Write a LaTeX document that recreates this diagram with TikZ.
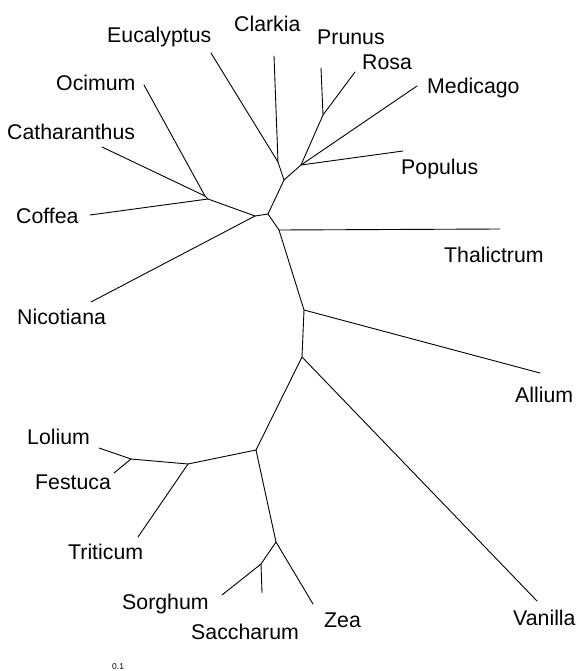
\documentclass[tikz,border=0pt]{standalone}
\usepackage{fontspec}
\setmainfont{Liberation Sans}
\begin{document}
\begin{tikzpicture}[x=1pt,y=-1pt,
  branch/.style={line width=0.9pt, line cap=round, line join=round},
  taxon/.style={anchor=base west, inner sep=0pt, font=\fontsize{21.3}{25}\selectfont},
  scalelbl/.style={anchor=base west, inner sep=0pt, font=\fontsize{8.5}{10}\selectfont}]
\useasboundingbox (0,0) rectangle (577,671);
% internal nodes
\coordinate (nEC) at (278,162);
\coordinate (nA) at (284,180);
\coordinate (nR) at (301,165);
\coordinate (nPR) at (323,115);
\coordinate (nB) at (268,214);
\coordinate (nAs2) at (255,216);
\coordinate (nOC) at (205,196);
\coordinate (nAst) at (208,199);
\coordinate (nT) at (279,230);
\coordinate (nAl) at (304,310);
\coordinate (nV) at (302,357);
\coordinate (nP) at (256,450);
\coordinate (nLT) at (188,464);
\coordinate (nLF) at (131,459);
\coordinate (nZ) at (276,542);
\coordinate (nS) at (261,564);
% tips
\coordinate (tEuc) at (211,53);
\coordinate (tCla) at (274,56);
\coordinate (tPru) at (321,68);
\coordinate (tRos) at (355,72);
\coordinate (tMed) at (417,86);
\coordinate (tPop) at (403,151);
\coordinate (tOci) at (144,85);
\coordinate (tCat) at (102,147);
\coordinate (tCof) at (90,215);
\coordinate (tNic) at (91,302);
\coordinate (tTha) at (500,229);
\coordinate (tAll) at (540,373);
\coordinate (tVan) at (537,601);
\coordinate (tLol) at (99,448);
\coordinate (tFes) at (114,473);
\coordinate (tTri) at (138,537);
\coordinate (tZea) at (313,604);
\coordinate (tSor) at (222,595);
\coordinate (tSac) at (262,593);
% branches
\draw[branch] (tEuc) -- (nEC) -- (nA) -- (nR);
\draw[branch] (tCla) -- (nEC);
\draw[branch] (nR) -- (nPR) -- (tRos);
\draw[branch] (nPR) -- (tPru);
\draw[branch] (nR) -- (tMed);
\draw[branch] (nR) -- (tPop);
\draw[branch] (nA) -- (nB) -- (nAs2) -- (nAst) -- (nOC) -- (tOci);
\draw[branch] (nOC) -- (tCat);
\draw[branch] (nAst) -- (tCof);
\draw[branch] (nAs2) -- (tNic);
\draw[branch] (nB) -- (nT) -- (tTha);
\draw[branch] (nT) -- (nAl) -- (tAll);
\draw[branch] (nAl) -- (nV) -- (tVan);
\draw[branch] (nV) -- (nP) -- (nLT) -- (nLF) -- (tLol);
\draw[branch] (nLF) -- (tFes);
\draw[branch] (nLT) -- (tTri);
\draw[branch] (nP) -- (nZ) -- (tZea);
\draw[branch] (nZ) -- (nS) -- (tSor);
\draw[branch] (nS) -- (tSac);
% labels
\node[taxon] (lEuc) at (107,43) {Eucalyptus};
\node[taxon] (lCla) at (234,32) {Clarkia};
\node[taxon] (lPru) at (317,45) {Prunus};
\node[taxon] (lRos) at (362,70) {Rosa};
\node[taxon] (lMed) at (427,94) {Medicago};
\node[taxon] (lPop) at (401,175) {Populus};
\node[taxon] (lOci) at (56,91) {Ocimum};
\node[taxon] (lCat) at (7,140) {Catharanthus};
\node[taxon] (lCof) at (16,223) {Coffea};
\node[taxon] (lNic) at (17,324) {Nicotiana};
\node[taxon] (lTha) at (444,262) {Thalictrum};
\node[taxon] (lAll) at (515,402) {Allium};
\node[taxon] (lVan) at (513,625) {Vanilla};
\node[taxon] (lLol) at (27,444) {Lolium};
\node[taxon] (lFes) at (35,489) {Festuca};
\node[taxon] (lTri) at (68,559) {Triticum};
\node[taxon] (lSor) at (122,609) {Sorghum};
\node[taxon] (lSac) at (191,639) {Saccharum};
\node[taxon] (lZea) at (324,627) {Zea};
\node[scalelbl] (lScale) at (112,669.5) {0.1};
\end{tikzpicture}
\end{document}
